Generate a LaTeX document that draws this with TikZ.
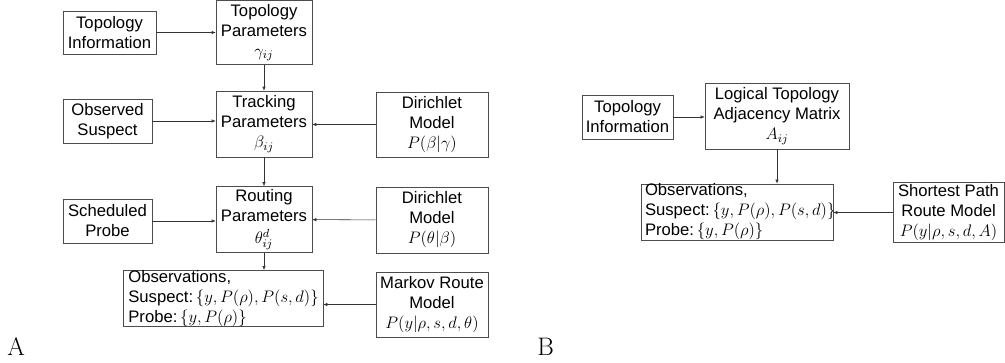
\RequirePackage{fix-cm}
\documentclass[tikz,border=0pt]{standalone}
\usepackage{fontspec}
\setsansfont{Liberation Sans}
\usetikzlibrary{arrows.meta}

\begin{document}
\begin{tikzpicture}[x=0.75pt,y=-0.75pt,
    box/.style={draw=black!70, font=\sffamily\fontsize{12.5}{15}\selectfont, align=center, inner sep=0pt},
    arr/.style={draw=black!80, -{Latex[length=3pt,width=2.5pt]}}]
      \useasboundingbox (0,0) rectangle (1005,362);
      % panel A
      \node[box, minimum width=69.75pt, minimum height=32.25pt] (topinfo) at (109.5,32.5) {Topology\\Information};
      \node[box, minimum width=72pt, minimum height=48pt] (toppar) at (264,32.5) {Topology\\Parameters\\$\gamma_{ij}$};
      \node[box, minimum width=72pt, minimum height=49.5pt] (track) at (264,124) {Tracking\\Parameters\\$\beta_{ij}$};
      \node[box, minimum width=66.75pt, minimum height=33pt] (obs) at (107.5,121) {Observed\\Suspect};
      \node[box, minimum width=84pt, minimum height=48.75pt] (dir1) at (432,124.5) {Dirichlet\\Model\\$P(\beta|\gamma)$};
      \node[box, minimum width=72pt, minimum height=49.5pt] (route) at (264,219.5) {Routing\\Parameters\\[1.5pt]$\theta_{ij}^{d}$};
      \node[box, minimum width=66.75pt, minimum height=33pt] (sched) at (107.5,221) {Scheduled\\Probe};
      \node[box, minimum width=84pt, minimum height=49.5pt] (dir2) at (432,220) {Dirichlet\\Model\\$P(\theta|\beta)$};
      \node[box, align=left, text width=142pt, inner xsep=4pt, minimum height=39.75pt] (obsA) at (223,298.5)
        {Observations,\\Suspect:$\,\{y,P(\rho),P(s,d)\}$\\Probe:$\,\{y,P(\rho)\}$};
      \node[box, minimum width=84pt, minimum height=48.75pt] (markov) at (432,304.5) {Markov Route\\Model\\$P(y|\rho,s,d,\theta)$};
      \draw[arr] (topinfo.east) -- (topinfo.east -| toppar.west);
      \draw[arr] (toppar) -- (track);
      \draw[arr] (obs.east) -- (obs.east -| track.west);
      \draw[arr] (dir1.west) -- (dir1.west -| track.east);
      \draw[arr] (track) -- (route);
      \draw[arr] (sched.east) -- (sched.east -| route.west);
      \draw[arr] (dir2) -- (route);
      \draw[arr] (route.south) -- (route.south |- obsA.north);
      \draw[arr] (markov.west) -- (markov.west -| obsA.east);
      % panel B
      \node[box, minimum width=68.25pt, minimum height=33pt] (topinfoB) at (627.5,117) {Topology\\Information};
      \node[box, minimum width=108pt, minimum height=49.5pt] (logical) at (777,116) {Logical Topology\\Adjacency Matrix\\$A_{ij}$};
      \node[box, align=left, text width=138pt, inner xsep=3pt, minimum height=39pt] (obsB) at (737,212)
        {Observations,\\Suspect:$\,\{y,P(\rho),P(s,d)\}$\\Probe:$\,\{y,P(\rho)\}$};
      \node[box, minimum width=83.25pt, minimum height=45pt] (shortest) at (948.5,212.5) {Shortest Path\\Route Model\\$P(y|\rho,s,d,A)$};
      \draw[arr] (topinfoB.east) -- (topinfoB.east -| logical.west);
      \draw[arr] (logical.south) -- (logical.south |- obsB.north);
      \draw[arr] (shortest.west) -- (shortest.west -| obsB.east);
      % panel letters
      \node[anchor=base west, inner sep=0pt, font=\fontsize{19}{19}\selectfont] (labA) at (7,355) {A};
      \node[anchor=base west, inner sep=0pt, font=\fontsize{19}{19}\selectfont] (labB) at (537,355) {B};
\end{tikzpicture}
\end{document}
